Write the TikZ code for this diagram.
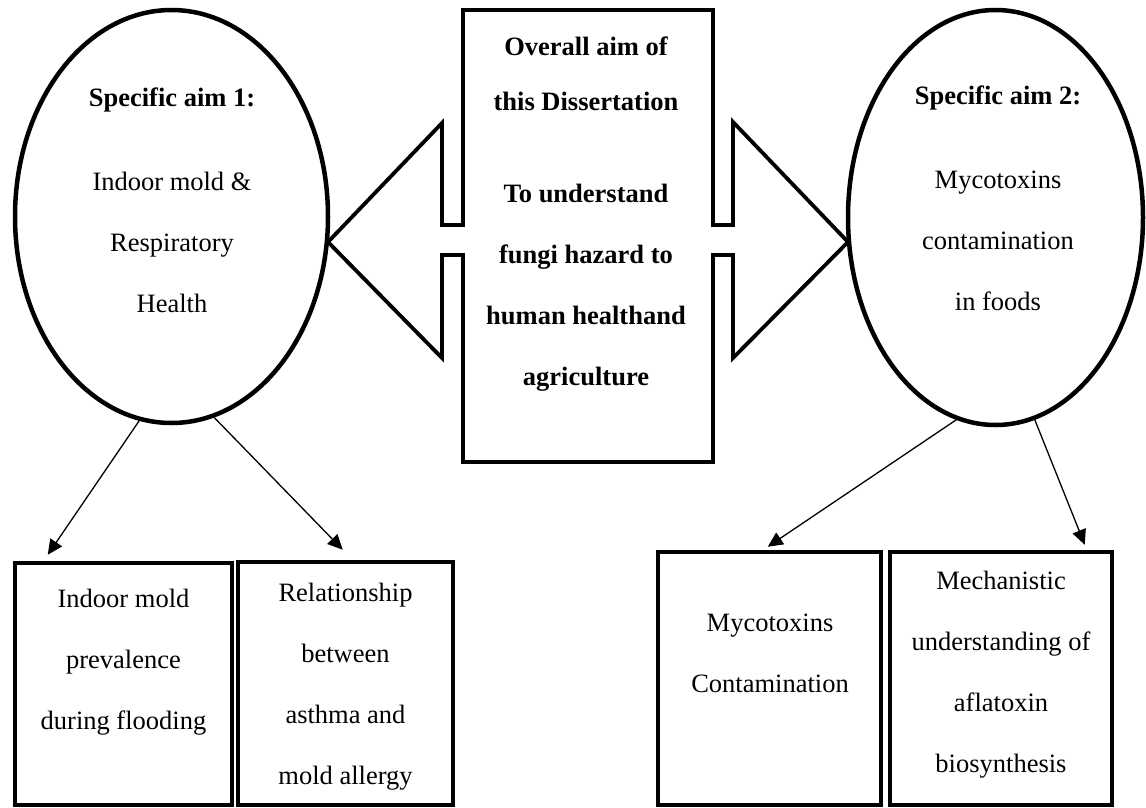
\documentclass[tikz,border=0pt]{standalone}
\usepackage{fontspec}
\setmainfont{Liberation Serif}
\usetikzlibrary{arrows.meta,shapes.geometric}
\begin{document}
\begin{tikzpicture}[x=1pt,y=-1pt,
  txt/.style={font=\fontsize{26.5}{61}\selectfont, align=center, anchor=base, inner sep=0pt},
  boldtxt/.style={txt, font=\fontsize{26.5}{61}\selectfont\bfseries},
  oval/.style={ellipse, draw, line width=4.5pt, inner sep=0pt},
  boxn/.style={rectangle, draw, line width=4.5pt, inner sep=0pt},
  arr/.style={line width=1.3pt, -{Triangle[length=15pt,width=14pt]}},
  callout/.style={line width=3.8pt, line join=miter}]
\useasboundingbox (0,0) rectangle (1146,808);

% ellipses
\node[oval, minimum width=313pt, minimum height=413pt] (e1) at (171.5,216.5) {};
\node[oval, minimum width=295pt, minimum height=415pt] (e2) at (995.5,217.5) {};

% central box with two arrow callouts
\draw[callout] (463,225) -- (463,10) -- (713,10) -- (713,225) -- (733,225) -- (733,122)
  -- (848,242) -- (733,358) -- (733,255) -- (713,255) -- (713,462) -- (463,462)
  -- (463,255) -- (442,255) -- (442,358) -- (328,242) -- (442,123) -- (442,225) -- cycle;

% lower boxes
\node[boxn, minimum width=217pt, minimum height=242pt] (b1) at (123.5,684) {};
\node[boxn, minimum width=215pt, minimum height=243pt] (b2) at (345.5,683.5) {};
\node[boxn, minimum width=223pt, minimum height=253pt] (b3) at (769.5,678.5) {};
\node[boxn, minimum width=222pt, minimum height=253pt] (b4) at (1001,678.5) {};

% texts (anchor = baseline of the last line)
\node[txt] (t1) at (172,312) {\textbf{Specific aim 1:}\\[23pt] Indoor mold \&\\ Respiratory\\ Health};
\node[txt] (t2) at (998,310) {\textbf{Specific aim 2:}\\[23pt] Mycotoxins\\ contamination\\ in foods};
\node[boldtxt] (ct) at (586,385) {Overall aim of\\[-6pt] this Dissertation\\[31pt] To understand\\ fungi hazard to\\ human healthand\\ agriculture};
\node[txt] (bt1) at (123.5,729) {Indoor mold\\ prevalence\\ during flooding};
\node[txt] (bt2) at (345.5,784) {Relationship\\ between\\ asthma and\\ mold allergy};
\node[txt] (bt3) at (770,692) {Mycotoxins\\ Contamination};
\node[txt] (bt4) at (1001,772) {Mechanistic\\ understanding of\\ aflatoxin\\ biosynthesis};

% arrows
\draw[arr] (e1.261) -- ([xshift=35pt,yshift=6pt]b1.north west);
\draw[arr] (e1.282) -- ([xshift=107pt,yshift=10pt]b2.north west);
\draw[arr] (e2.259) -- ([xshift=112pt,yshift=3pt]b3.north west);
\draw[arr] (e2.281) -- ([xshift=197pt,yshift=5pt]b4.north west);
\end{tikzpicture}
\end{document}
